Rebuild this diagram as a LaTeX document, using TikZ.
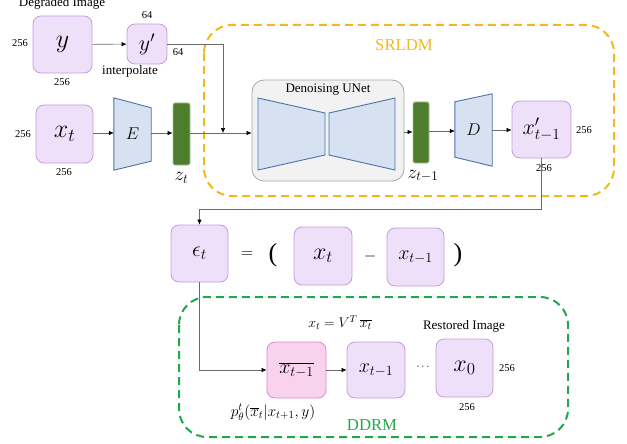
\RequirePackage{fix-cm}
\documentclass[tikz,border=0pt]{standalone}
\usepackage{fontspec}
\setmainfont{Liberation Serif}
\usetikzlibrary{calc,arrows.meta}
\definecolor{pfill}{HTML}{EFE0F9}
\definecolor{pborder}{HTML}{C99ADF}
\definecolor{pkfill}{HTML}{F9D3EE}
\definecolor{pkborder}{HTML}{D98BCB}
\definecolor{bfill}{HTML}{D6E1F2}
\definecolor{bborder}{HTML}{4E71A6}
\definecolor{gfill}{HTML}{F2F2F2}
\definecolor{gborder}{HTML}{A8A8A8}
\definecolor{zfill}{HTML}{4E7D2E}
\definecolor{zborder}{HTML}{A3C48A}
\definecolor{orng}{HTML}{F2B81C}
\definecolor{grn}{HTML}{22A84A}
\definecolor{lgray}{HTML}{6A6A6A}
\begin{document}
\begin{tikzpicture}[x=1pt,y=-1pt,
  box/.style={draw=pborder, fill=pfill, rounded corners=8pt, line width=0.8pt, inner sep=0pt},
  pbox/.style={draw=pkborder, fill=pkfill, rounded corners=8pt, line width=0.8pt, inner sep=0pt},
  zbar/.style={draw=zborder, fill=zfill, rounded corners=2pt, line width=0.8pt, minimum width=17pt, minimum height=62pt, inner sep=0pt},
  trap/.style={draw=bborder, fill=bfill, line width=0.9pt},
  anch/.style={inner sep=0pt, minimum width=37pt, minimum height=72pt},
  conn/.style={draw=lgray, line width=0.6pt, -{Latex[length=5pt,width=4.5pt,color=black]}},
  num/.style={font=\fontsize{10.5}{12}\selectfont, inner sep=0pt},
  txt/.style={font=\fontsize{13}{15}\selectfont, inner sep=0pt},
  grptxt/.style={font=\fontsize{16.7}{19}\selectfont, inner sep=0pt},
  m26/.style={font=\fontsize{26}{28}\selectfont},
  m24/.style={font=\fontsize{24}{26}\selectfont},
  m22/.style={font=\fontsize{22}{24}\selectfont},
  m20/.style={font=\fontsize{20}{22}\selectfont},
  grp/.style={dash pattern=on 8pt off 5pt, line width=2pt, rounded corners=28pt}
]
\useasboundingbox (0,0) rectangle (627,444);

% group frames
\draw[grp, draw=orng] (204,25) rectangle (614,196);
\draw[grp, draw=grn] (179,297) rectangle (568,437);
\node[grptxt, text=orng] (srl) at (404,45) {SRLDM};
\node[grptxt, text=grn] (ddrm) at (372,425) {DDRM};

% top row
\node[txt] (deg) at (62,3) {Degraded Image};
\node[box, minimum width=59pt, minimum height=57pt, m26] (y) at (62.5,44.5) {$y$};
\node[num] (y256l) at (20,43) {256};
\node[num] (y256b) at (62,82) {256};
\node[box, minimum width=40pt, minimum height=40pt, m22] (yp) at (147,44) {$y'$};
\node[num] (yp64t) at (147,15) {64};
\node[num] (yp64r) at (178,52) {64};
\node[txt] (interp) at (130,71) {interpolate};

% second row
\node[box, minimum width=57pt, minimum height=58pt, m26] (xt) at (64.5,134) {$x_t$};
\node[num] (xt256l) at (23,134) {256};
\node[num] (xt256b) at (64,172) {256};

\node[anch] (E) at (132.5,134) {};
\draw[trap] (E.north west) -- ($(E.north east)+(0,10)$) -- ($(E.south east)+(0,-9)$) -- (E.south west) -- cycle;
\node[font=\fontsize{17}{19}\selectfont] (Elab) at (E.center) {$E$};

\node[zbar] (zt) at (181.5,134) {};
\node[font=\fontsize{19}{21}\selectfont, inner sep=0pt] (ztl) at (181.5,178) {$z_t$};

\node[draw=gborder, fill=gfill, rounded corners=12pt, line width=0.8pt, minimum width=152pt, minimum height=101pt, inner sep=0pt] (unet) at (328,130.5) {};
\node[txt] (unetl) at (328,90) {Denoising UNet};
\draw[trap] (258,98) -- (325,113) -- (325,155) -- (258,170) -- cycle;
\draw[trap] (329,113) -- (395,98) -- (395,170) -- (329,155) -- cycle;

\node[zbar, minimum height=61pt, minimum width=16pt] (zt1) at (421,132.5) {};
\node[font=\fontsize{19}{21}\selectfont, inner sep=0pt] (zt1l) at (423,176) {$z_{t-1}$};

\node[anch] (D) at (473.5,130) {};
\draw[trap] ($(D.north west)+(0,8)$) -- (D.north east) -- (D.south east) -- ($(D.south west)+(0,-9)$) -- cycle;
\node[font=\fontsize{17}{19}\selectfont] (Dlab) at (D.center) {$D$};

\node[box, minimum width=59pt, minimum height=57pt, m22] (xp) at (541.5,129.5) {$x'_{t-1}$};
\node[num] (xp256r) at (584,130) {256};
\node[num] (xp256b) at (544,168) {256};

% connectors row 1-2
\draw[conn] (y) -- (yp);
\coordinate (j) at (223,133);
\draw[conn] (yp.east) -| (j);
\draw[conn] (xt.east |- 0,133) -- (E.west |- 0,133);
\draw[conn] (E.east |- 0,133) -- (zt.west |- 0,133);
\draw[conn] (zt.east |- 0,133) -- (unet.west |- 0,133);
\draw[conn] (unet.east |- 0,132) -- (zt1.west |- 0,132);
\draw[conn] (zt1.east |- 0,131) -- (D.west |- 0,131);
\draw[conn] (D.east |- 0,130) -- (xp.west |- 0,130);

% epsilon row
\node[box, minimum width=57pt, minimum height=57pt, m22] (eps) at (199.5,253.5) {$\epsilon_t$};
\node[font=\fontsize{16}{18}\selectfont, inner sep=0pt] (eq) at (247,255) {$=$};
\node[font=\fontsize{26}{28}\selectfont, inner sep=0pt] (lp) at (273,255) {(};
\node[box, minimum width=58pt, minimum height=58pt, m24] (xt2) at (323,256) {$x_t$};
\node[font=\fontsize{16}{18}\selectfont, inner sep=0pt] (minus) at (370,256) {$-$};
\node[box, minimum width=57pt, minimum height=58pt, m20] (xt12) at (415.5,257) {$x_{t-1}$};
\node[font=\fontsize{26}{28}\selectfont, inner sep=0pt] (rp) at (458,255) {)};

\coordinate (c1) at (542,209);
\draw[conn] (xp.south) -- (xp.south |- c1) -| (eps.north);

% DDRM row
\node[pbox, minimum width=59pt, minimum height=56pt, m20] (pk) at (296.5,370) {$\overline{x_{t-1}}$};
\node[box, minimum width=58pt, minimum height=56pt, m20] (x3) at (376,370) {$x_{t-1}$};
\node[inner sep=0pt, font=\fontsize{11}{12}\selectfont] (dots) at (423,367) {$\cdots$};
\node[box, minimum width=57pt, minimum height=58pt, m24] (x0) at (464.5,368) {$x_0$};
\node[num] (x0256r) at (507,368) {256};
\node[num] (x0256b) at (467,407) {256};
\node[txt] (rest) at (464,326) {Restored Image};
\node[font=\fontsize{14}{16}\selectfont, inner sep=0pt] (form) at (340,323) {$x_t = V^T\,\overline{x_t}$};
\node[font=\fontsize{15.5}{17}\selectfont, inner sep=0pt] (pl) at (273,412) {$p^t_\theta(\overline{x}_t|x_{t+1},y)$};

\draw[conn] (eps.south) |- (pk.west);
\draw[conn] (pk) -- (x3);
\end{tikzpicture}
\end{document}
